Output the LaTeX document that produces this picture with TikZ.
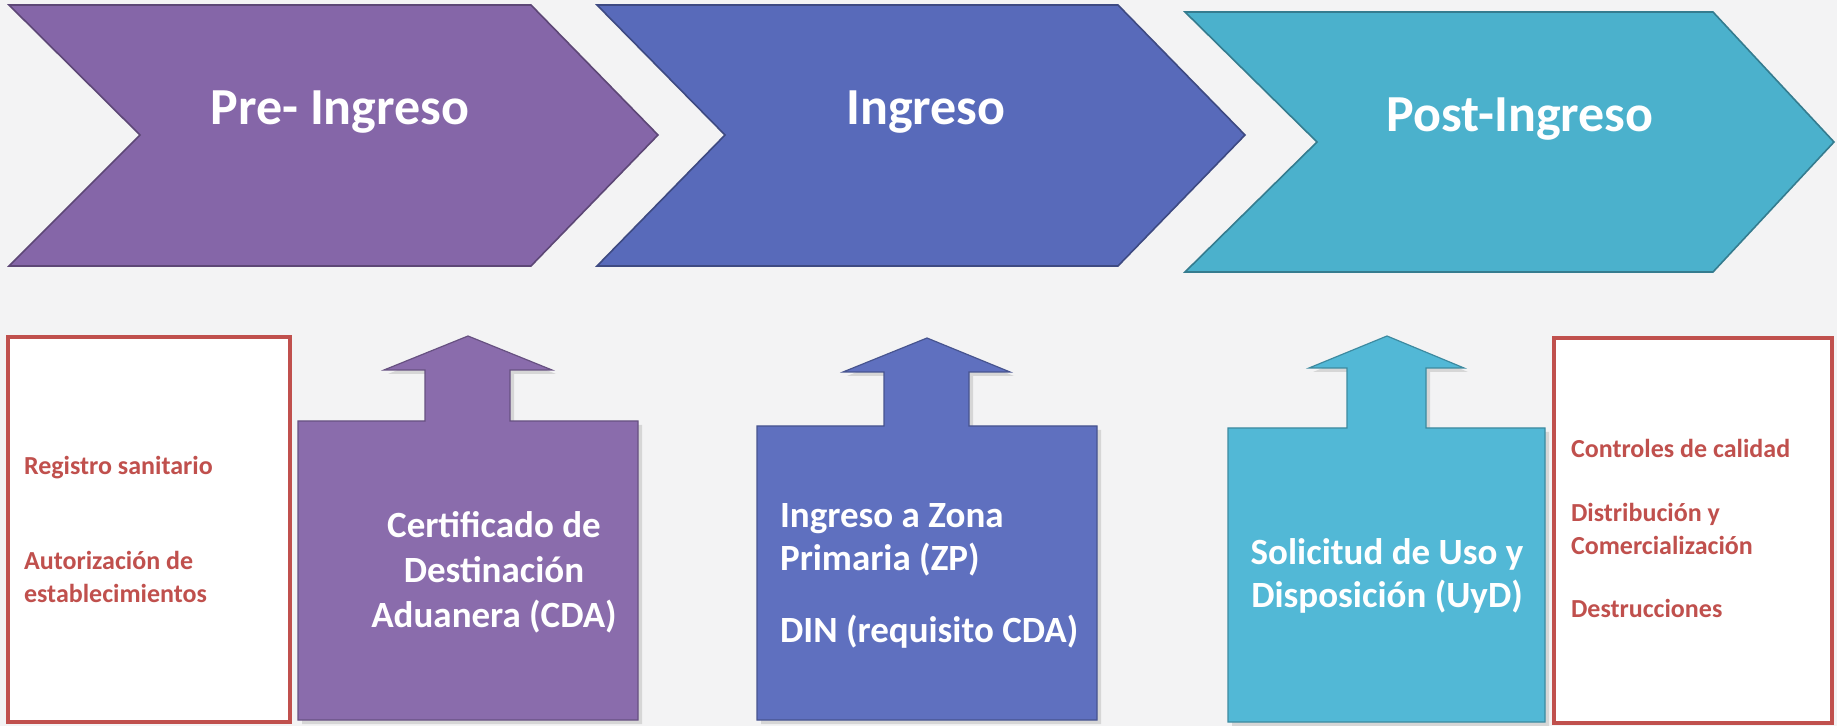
\documentclass[tikz,border=0pt]{standalone}
\usepackage{fontspec}
\setmainfont{Carlito}
\usetikzlibrary{shadows}
\definecolor{pagegray}{RGB}{243,243,244}
\definecolor{prepurple}{RGB}{133,102,168}
\definecolor{preboxpurple}{RGB}{138,108,172}
\definecolor{ingblue}{RGB}{88,106,186}
\definecolor{ingboxblue}{RGB}{95,112,191}
\definecolor{postcyan}{RGB}{75,177,204}
\definecolor{postboxcyan}{RGB}{82,184,214}
\definecolor{itemred}{RGB}{192,80,77}
\begin{document}
\begin{tikzpicture}[x=0.5pt, y=-0.5pt,
    stagetitle/.style={text=white, anchor=base, font=\bfseries\fontsize{26}{30}\selectfont},
    boxtext/.style={text=white, anchor=base, font=\bfseries\fontsize{18.5}{21.5}\selectfont},
    itemtext/.style={text=itemred, anchor=base west, font=\bfseries\fontsize{13}{16.5}\selectfont},
    docshape/.style={line width=0.6pt, drop shadow={opacity=0.25, shadow xshift=2pt, shadow yshift=-2pt}},
    redbox/.style={draw=itemred, line width=2pt, fill=white}]
    % Background
    \useasboundingbox (0,0) rectangle (1837,726);
    \fill[pagegray] (0,0) rectangle (1837,726);

    % Stage chevrons
    \filldraw[fill=prepurple, draw=prepurple!70!black, line width=0.8pt]
        (9,5) -- (531,5) -- (658,135) -- (531,266) -- (9,266) -- (140,135) -- cycle;
    \filldraw[fill=ingblue, draw=ingblue!70!black, line width=0.8pt]
        (597,5) -- (1118,5) -- (1245,135) -- (1118,266) -- (597,266) -- (725,135) -- cycle;
    \filldraw[fill=postcyan, draw=postcyan!70!black, line width=0.8pt]
        (1185,12) -- (1713,12) -- (1834,142) -- (1713,272) -- (1185,272) -- (1317,142) -- cycle;
    \node[stagetitle] (pre) at (340,125) {Pre- Ingreso};
    \node[stagetitle] (ing) at (926,125) {Ingreso};
    \node[stagetitle] (post) at (1520,132) {Post-Ingreso};

    % Documents pointing up to each stage
    \filldraw[docshape, fill=preboxpurple, draw=preboxpurple!75!black]
        (298,720) -- (298,421) -- (425,421) -- (425,370) -- (384,370) -- (468,336)
        -- (552,370) -- (510,370) -- (510,421) -- (638,421) -- (638,720) -- cycle;
    \filldraw[docshape, fill=ingboxblue, draw=ingboxblue!75!black]
        (757,720) -- (757,426) -- (884,426) -- (884,372) -- (843,372) -- (927,338)
        -- (1010,372) -- (969,372) -- (969,426) -- (1097,426) -- (1097,720) -- cycle;
    \filldraw[docshape, fill=postboxcyan, draw=postboxcyan!75!black]
        (1228,722) -- (1228,428) -- (1347,428) -- (1347,368) -- (1309,368) -- (1387,336)
        -- (1464,368) -- (1426,368) -- (1426,428) -- (1545,428) -- (1545,722) -- cycle;
    % (multi-line nodes sit on the baseline of their last line)
    \node[boxtext, align=center, font=\bfseries\fontsize{18.5}{22.5}\selectfont] (cda) at (494,628)
        {Certificado de\\Destinación\\Aduanera (CDA)};
    \node[boxtext, align=left, anchor=base west] (zp) at (773,643)
        {Ingreso a Zona\\Primaria (ZP)\\[14.5pt]DIN (requisito CDA)};
    \node[boxtext, align=center] (uyd) at (1387,608)
        {Solicitud de Uso y\\Disposición (UyD)};

    % Requirements before and after
    \draw[redbox] (8,337) rectangle (290,722);
    \draw[redbox] (1554,338) rectangle (1832,723);
    \node[itemtext] (regsan) at (17,475) {Registro sanitario};
    \node[itemtext, align=left] (autest) at (17,603) {Autorización de\\establecimientos};
    \node[itemtext] (calidad) at (1564,458) {Controles de calidad};
    \node[itemtext, align=left] (distcom) at (1564,555) {Distribución y\\Comercialización};
    \node[itemtext] (destr) at (1564,618) {Destrucciones};
\end{tikzpicture}
\end{document}
